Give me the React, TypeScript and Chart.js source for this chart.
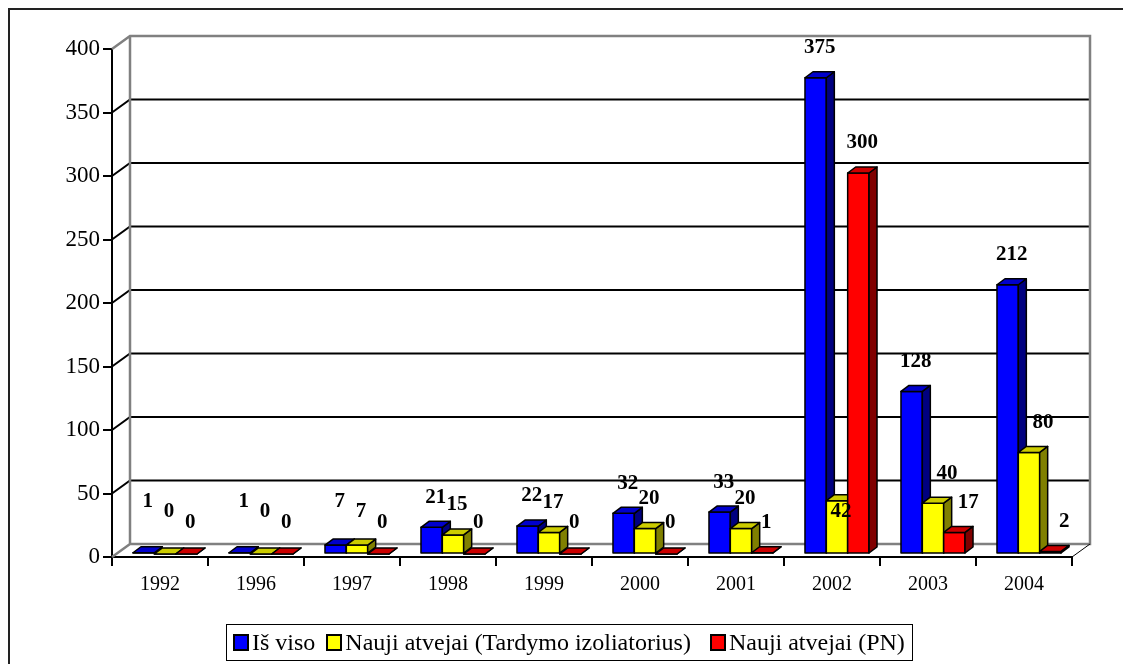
import React, { useEffect, useRef } from "react";
import { Chart, registerables } from "chart.js";

Chart.register(...registerables);

const categories = ["1992", "1996", "1997", "1998", "1999", "2000", "2001", "2002", "2003", "2004"];
const isViso = [1, 1, 7, 21, 22, 32, 33, 375, 128, 212];
const naujiTardymo = [0, 0, 7, 15, 17, 20, 20, 42, 40, 80];
const naujiPN = [0, 0, 0, 0, 0, 0, 1, 300, 17, 2];
const seriesNames = ["Iš viso", "Nauji atvejai (Tardymo izoliatorius)", "Nauji atvejai (PN)"];
const yMin = 0;
const yMax = 400;
const yStep = 50;

const FRONT = ["#0000FF", "#FFFF00", "#FF0000"];
const TOP = ["#0000CC", "#CCCC00", "#CC0000"];
const SIDE = ["#000080", "#808000", "#800000"];
const SERIF = "'Liberation Serif', 'Times New Roman', serif";

// 3D geometry
const WALL_DX = 18;
const WALL_DY = -13;
const BAR_SX = 5;
const BAR_SY = -3;
const BAR_DX = 8;
const BAR_DY = -6;
const LABEL_GAP = 33;
const LABEL_MIN_OFF = [55, 45, 34];

const threeD = {
  id: "threeD",
  beforeDraw(chart: any) {
    const ctx = chart.ctx;
    ctx.save();
    ctx.strokeStyle = "#222";
    ctx.lineWidth = 2;
    ctx.beginPath();
    ctx.moveTo(1, chart.height);
    ctx.lineTo(1, 1);
    ctx.lineTo(chart.width, 1);
    ctx.stroke();
    ctx.restore();
  },
  beforeDatasetsDraw(chart: any) {
    const ctx = chart.ctx;
    const a = chart.chartArea;
    const ys = chart.scales.y;
    const y0 = ys.getPixelForValue(yMin);
    const yT = ys.getPixelForValue(yMax);
    ctx.save();
    for (let v = yMin + yStep; v < yMax; v += yStep) {
      const py = ys.getPixelForValue(v);
      ctx.strokeStyle = "#000";
      ctx.lineWidth = 2;
      ctx.beginPath();
      ctx.moveTo(a.left, py);
      ctx.lineTo(a.left + WALL_DX, py + WALL_DY);
      ctx.lineTo(a.right + WALL_DX, py + WALL_DY);
      ctx.stroke();
    }
    ctx.strokeStyle = "#808080";
    ctx.lineWidth = 2.5;
    ctx.beginPath();
    ctx.moveTo(a.left, yT);
    ctx.lineTo(a.left + WALL_DX, yT + WALL_DY);
    ctx.lineTo(a.right + WALL_DX, yT + WALL_DY);
    ctx.lineTo(a.right + WALL_DX, y0 + WALL_DY);
    ctx.lineTo(a.left + WALL_DX, y0 + WALL_DY);
    ctx.lineTo(a.left + WALL_DX, yT + WALL_DY);
    ctx.moveTo(a.left, y0);
    ctx.lineTo(a.left + WALL_DX, y0 + WALL_DY);
    ctx.stroke();
    ctx.strokeStyle = "#000";
    ctx.lineWidth = 1;
    ctx.beginPath();
    ctx.moveTo(a.right + WALL_DX, y0 + WALL_DY);
    ctx.lineTo(a.right, y0);
    ctx.stroke();
    ctx.restore();
    ctx.save();
    ctx.translate(BAR_SX, BAR_SY);
  },
  afterDatasetsDraw(chart: any) {
    const ctx = chart.ctx;
    const nDs = chart.data.datasets.length;
    const metas = Array.from({ length: nDs }, (_, i) => chart.getDatasetMeta(i));
    ctx.save();
    ctx.strokeStyle = "#000";
    ctx.lineWidth = 1.5;
    ctx.lineJoin = "round";
    for (let j = 0; j < categories.length; j++) {
      for (let i = 0; i < nDs; i++) {
        const el = metas[i].data[j];
        if (!el) continue;
        const p = el.getProps(["x", "y", "base", "width"], true);
        const l = p.x - p.width / 2;
        const r = p.x + p.width / 2;
        const t = Math.min(p.y, p.base);
        const b = Math.max(p.y, p.base);
        ctx.fillStyle = FRONT[i];
        ctx.fillRect(l, t, r - l, b - t);
        ctx.strokeRect(l, t, r - l, b - t);
        ctx.fillStyle = SIDE[i];
        ctx.beginPath();
        ctx.moveTo(r, t);
        ctx.lineTo(r + BAR_DX, t + BAR_DY);
        ctx.lineTo(r + BAR_DX, b + BAR_DY);
        ctx.lineTo(r, b);
        ctx.closePath();
        ctx.fill();
        ctx.stroke();
        ctx.fillStyle = TOP[i];
        ctx.beginPath();
        ctx.moveTo(l, t);
        ctx.lineTo(l + BAR_DX, t + BAR_DY);
        ctx.lineTo(r + BAR_DX, t + BAR_DY);
        ctx.lineTo(r, t);
        ctx.closePath();
        ctx.fill();
        ctx.stroke();
      }
    }
    ctx.restore();
    ctx.restore();

    const ys = chart.scales.y;
    const y0 = ys.getPixelForValue(0);
    const topOf = (i: number, j: number) => {
      const el = metas[i] && metas[i].data[j];
      if (!el) return Infinity;
      return el.getProps(["y"], true).y + BAR_SY + BAR_DY;
    };
    ctx.save();
    ctx.font = `bold 21px ${SERIF}`;
    ctx.fillStyle = "#000";
    ctx.textAlign = "center";
    ctx.textBaseline = "middle";
    chart.data.datasets.forEach((ds: any, i: number) => {
      metas[i].data.forEach((el: any, j: number) => {
        const p = el.getProps(["x", "y"], true);
        let lx = p.x + BAR_SX + BAR_DX / 2;
        let ly = Math.min(p.y - LABEL_GAP, y0 - LABEL_MIN_OFF[i]);
        const leftTop = i > 0 ? topOf(i - 1, j) : Infinity;
        const rightTop = i < nDs - 1 ? topOf(i + 1, j) : Infinity;
        if (leftTop < ly - 10 && rightTop < ly - 10) {
          // boxed in by taller neighbours: put the label inside the bar top
          ly = p.y + BAR_SY + 11;
        } else if (leftTop < ly - 5) {
          lx += 10;
        }
        ctx.fillText(String(ds.data[j]), lx, ly);
      });
    });
    ctx.restore();
  },
};

export default function App() {
  const ref = useRef<HTMLCanvasElement | null>(null);
  useEffect(() => {
    document.documentElement.style.overflow = "hidden";
    const series = [isViso, naujiTardymo, naujiPN];
    const chart = new Chart(ref.current as HTMLCanvasElement, {
      type: "bar",
      data: {
        labels: categories,
        datasets: series.map((d, i) => ({
          label: seriesNames[i],
          data: d,
          backgroundColor: FRONT[i],
          borderWidth: 0,
          categoryPercentage: 0.667,
          barPercentage: 1,
        })),
      },
      options: {
        animation: false,
        responsive: false,
        maintainAspectRatio: false,
        layout: { padding: { top: 41, right: 59, left: 0, bottom: 0 } },
        plugins: { legend: { display: false }, tooltip: { enabled: false } },
        datasets: { bar: { clip: false } as any },
        scales: {
          x: {
            grid: { offset: true, drawOnChartArea: false, tickLength: 9, color: "#000", lineWidth: 2 },
            border: { display: true, color: "#000", width: 2 },
            ticks: { color: "#000", font: { family: SERIF, size: 20 }, padding: 7, maxRotation: 0 },
            afterFit: (s: any) => { s.height = 107; },
          },
          y: {
            min: yMin,
            max: yMax,
            ticks: { stepSize: yStep, color: "#000", font: { family: SERIF, size: 23 }, padding: 3 },
            grid: { drawOnChartArea: false, tickLength: 9, color: "#000", lineWidth: 2 },
            border: { display: true, color: "#000", width: 2 },
            afterFit: (s: any) => { s.width = 104; },
          },
        },
      },
      plugins: [threeD],
    });
    return () => chart.destroy();
  }, []);

  const sq = (c: string) => (
    <span style={{ display: "inline-block", width: 12, height: 13, background: c, border: "2px solid #000", marginRight: 3 }} />
  );

  return (
    <div style={{ position: "relative", width: 1123, height: 656, overflow: "hidden" }}>
      <canvas ref={ref} width={1123} height={656} style={{ display: "block" }} />
      <div
        style={{
          position: "absolute",
          left: 218,
          top: 616,
          width: 687,
          height: 37,
          boxSizing: "border-box",
          border: "1px solid #000",
          display: "flex",
          alignItems: "center",
          paddingLeft: 6,
          fontFamily: SERIF,
          fontSize: 24,
          color: "#000",
          whiteSpace: "nowrap",
        }}
      >
        {sq(FRONT[0])}
        <span style={{ marginRight: 11 }}>{seriesNames[0]}</span>
        {sq(FRONT[1])}
        <span style={{ marginRight: 19 }}>{seriesNames[1]}</span>
        {sq(FRONT[2])}
        <span>{seriesNames[2]}</span>
      </div>
    </div>
  );
}
